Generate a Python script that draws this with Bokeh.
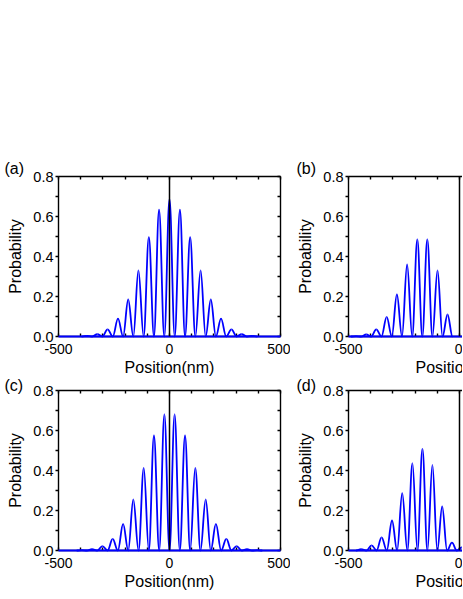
from bokeh.plotting import figure
from bokeh.models import (FixedTicker, LinearAxis, Span, Range1d, Title,
                          PrintfTickFormatter, Spacer, ColumnDataSource)
from bokeh.layouts import column, row
from bokeh.embed import file_html
from bokeh.resources import INLINE

# ---------------- data ----------------
X_MIN, X_MAX = -500, 500
Y_MIN, Y_MAX = 0.0, 0.8
x_major = [-500, 0, 500]
x_minor = [-400, -300, -200, -100, 100, 200, 300, 400]
y_major = [0.0, 0.2, 0.4, 0.6, 0.8]
y_minor = [0.1, 0.3, 0.5, 0.7]

a_peak_x = [-372, -325, -279, -232, -186, -140, -93, -47, 0, 47, 93, 140, 186, 232, 279, 325, 372]
a_peak_y = [0.003, 0.012, 0.036, 0.089, 0.185, 0.330, 0.497, 0.634, 0.688,
            0.634, 0.497, 0.330, 0.185, 0.089, 0.036, 0.012, 0.003]

b_peak_x = [-466, -420, -375, -328, -282, -236, -190, -145, -99, -54]
b_peak_y = [0.002, 0.011, 0.036, 0.098, 0.210, 0.360, 0.485, 0.485, 0.330, 0.110]

c_peak_x = [-395, -349, -302, -256, -209, -163, -116, -70, -23, 23, 70, 116, 163, 209, 256, 302, 349, 395]
c_peak_y = [0.002, 0.007, 0.022, 0.058, 0.133, 0.255, 0.413, 0.575, 0.680,
            0.680, 0.575, 0.413, 0.255, 0.133, 0.058, 0.022, 0.007, 0.002]

d_peak_x = [-443, -396, -351, -304, -258, -212, -167, -122, -78, -34, 10]
d_peak_y = [0.007, 0.026, 0.066, 0.150, 0.287, 0.437, 0.508, 0.428, 0.220, 0.039, 0.015]

panel_letters = ["(a)", "(b)", "(c)", "(d)"]
x_title = "Position(nm)"
y_title = "Probability"

FONT = "Liberation Sans"
BLUE = "#0000FF"
K = 0.37  # bezier handle fraction for a smooth lobe


def lobe_source(px, py):
    d = {k: [] for k in ("x0", "y0", "x1", "y1", "cx0", "cy0", "cx1", "cy1")}
    n = len(px)
    for i in range(n):
        if i > 0:
            left = (px[i - 1] + px[i]) / 2
        else:
            left = px[i] - (px[i + 1] - px[i]) / 2
        if i < n - 1:
            right = (px[i] + px[i + 1]) / 2
        else:
            right = px[i] + (px[i] - px[i - 1]) / 2
        d["x0"].append(left); d["y0"].append(0.0)
        d["x1"].append(px[i]); d["y1"].append(py[i])
        d["cx0"].append(left + K * (px[i] - left)); d["cy0"].append(0.0)
        d["cx1"].append(px[i] - K * (px[i] - left)); d["cy1"].append(py[i])
        d["x0"].append(px[i]); d["y0"].append(py[i])
        d["x1"].append(right); d["y1"].append(0.0)
        d["cx0"].append(px[i] + K * (right - px[i])); d["cy0"].append(py[i])
        d["cx1"].append(right - K * (right - px[i])); d["cy1"].append(0.0)
    return ColumnDataSource(d)


PX_PER_UNIT = 222 / 1000.0


def make_panel(letter, px, py, width, height, b_left, b_right, b_top, b_bottom,
               full, letter_off, letter_standoff):
    frame_w = width - b_left - b_right
    x_end = X_MIN + frame_w / PX_PER_UNIT
    p = figure(width=width, height=height,
               x_range=Range1d(X_MIN, x_end), y_range=Range1d(Y_MIN, Y_MAX),
               output_backend="svg", toolbar_location=None,
               x_axis_location=None, y_axis_location=None,
               min_border_left=b_left, min_border_right=b_right,
               min_border_top=b_top, min_border_bottom=b_bottom)
    p.grid.visible = False
    p.outline_line_color = None
    p.background_fill_color = "white"
    p.border_fill_color = "white"

    xt = FixedTicker(ticks=x_major, minor_ticks=x_minor)
    yt = FixedTicker(ticks=y_major, minor_ticks=y_minor)

    common = dict(axis_line_width=1.4, major_tick_line_width=1.4,
                  minor_tick_line_width=1.4, axis_line_color="black",
                  major_tick_line_color="black", minor_tick_line_color="black")

    bottom = LinearAxis(ticker=xt, formatter=PrintfTickFormatter(format="%d"),
                        major_tick_in=3, major_tick_out=0,
                        minor_tick_in=3, minor_tick_out=0,
                        major_label_standoff=7,
                        major_label_text_font=FONT,
                        major_label_text_font_size="14px",
                        major_label_text_color="black", **common)
    p.add_layout(bottom, "below")

    top = LinearAxis(ticker=xt, major_tick_in=3, major_tick_out=0,
                     minor_tick_in=3, minor_tick_out=0,
                     major_label_text_font_size="0px", major_label_standoff=0,
                     **common)
    p.add_layout(top, "above")

    left = LinearAxis(ticker=yt, formatter=PrintfTickFormatter(format="%.1f"),
                      major_tick_in=0, major_tick_out=3,
                      minor_tick_in=0, minor_tick_out=3,
                      major_label_standoff=2,
                      major_label_text_font=FONT,
                      major_label_text_font_size="14.5px",
                      major_label_text_color="black",
                      axis_label=y_title, axis_label_standoff=6,
                      axis_label_text_font=FONT,
                      axis_label_text_font_size="16px",
                      axis_label_text_font_style="normal",
                      axis_label_text_color="black", **common)
    p.add_layout(left, "left")

    if full:
        right = LinearAxis(ticker=yt, major_tick_in=3, major_tick_out=0,
                           minor_tick_in=3, minor_tick_out=0,
                           major_label_text_font_size="0px",
                           major_label_standoff=0, **common)
        p.add_layout(right, "right")

    base = p.line(x=[X_MIN, X_MAX], y=[Y_MIN, Y_MIN], line_color=BLUE, line_width=1.8)
    base.level = "annotation"
    src = lobe_source(px, py)
    lob = p.bezier(x0="x0", y0="y0", x1="x1", y1="y1", cx0="cx0", cy0="cy0",
                   cx1="cx1", cy1="cy1", source=src, line_color=BLUE, line_width=1.8)
    lob.level = "annotation"

    p.add_layout(Span(location=0, dimension="height", line_color="black",
                      line_width=1.5, level="overlay"))

    # x title: centred on x = 0, i.e. the centre of the full (uncut) panel
    if full:
        xt_title = Title(text=x_title, align="center", offset=0, standoff=0,
                         text_font=FONT, text_font_size="16px",
                         text_font_style="normal", text_color="black")
    else:
        xt_title = Title(text=x_title, align="left",
                         offset=(0 - X_MIN) * PX_PER_UNIT - 44, standoff=0,
                         text_font=FONT, text_font_size="16px",
                         text_font_style="normal", text_color="black")
    p.add_layout(xt_title, "below")

    p.add_layout(Title(text=letter, align="left", offset=letter_off,
                       standoff=letter_standoff,
                       text_font=FONT, text_font_size="16px",
                       text_font_style="normal", text_color="black"), "above")
    return p


pa = make_panel(panel_letters[0], a_peak_x, a_peak_y, 290, 228, 58, 10, 26, 42, True, -54, 0)
pb = make_panel(panel_letters[1], b_peak_x, b_peak_y, 172, 228, 58, 0, 26, 42, False, -52, 0)
pc = make_panel(panel_letters[2], c_peak_x, c_peak_y, 290, 217, 58, 10, 12, 45, True, -54, -7)
pd = make_panel(panel_letters[3], d_peak_x, d_peak_y, 172, 217, 58, 0, 12, 45, False, -52, -7)

layout = column(Spacer(width=462, height=150), row(pa, pb), row(pc, pd))

open("out.html", "w").write(file_html(layout, INLINE))
